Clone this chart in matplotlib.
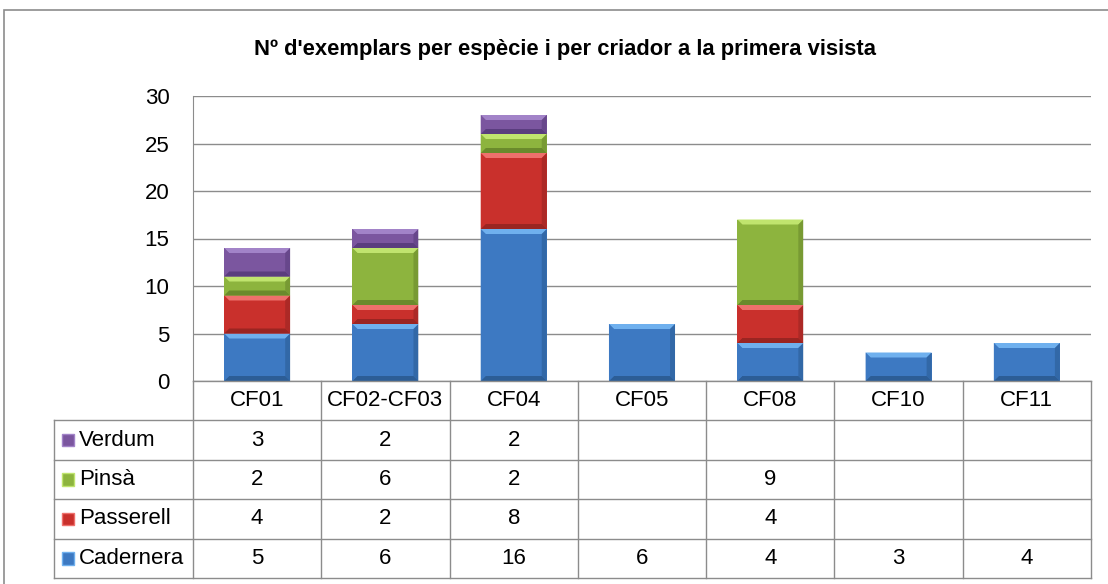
import matplotlib
matplotlib.use("Agg")
import matplotlib.pyplot as plt
from matplotlib.patches import Polygon, Rectangle
import numpy as np

plt.rcParams['font.family'] = ['Liberation Sans', 'DejaVu Sans']

# data
breeders = ['CF01', 'CF02-CF03', 'CF04', 'CF05', 'CF08', 'CF10', 'CF11']
species = ['Cadernera', 'Passerell', 'Pinsà', 'Verdum']
cadernera = [5, 6, 16, 6, 4, 3, 4]
passerell = [4, 2, 8, 0, 4, 0, 0]
pinsa = [2, 6, 2, 0, 9, 0, 0]
verdum = [3, 2, 2, 0, 0, 0, 0]
series = [cadernera, passerell, pinsa, verdum]

# (main, light top, dark bottom)
colors = [('#3d79c2', '#6fb0ee', '#2c5d96'),
          ('#c9302c', '#ee706c', '#9a2522'),
          ('#8db43e', '#c0e46e', '#6a8a2c'),
          ('#7b569f', '#a283c8', '#5a3d7e')]

W, H = 1108, 584
fig = plt.figure(figsize=(W / 100, H / 100), dpi=100)

# outer chart border
fig.patches.append(Rectangle((4 / W, -0.05), 1.2, 1 - 10 / H + 0.05, transform=fig.transFigure,
                             fill=False, edgecolor='#8c8c8c', lw=1.2))

x0, x1 = 193, 1091
y_top, y_bot = 96, 381
ax = fig.add_axes([x0 / W, 1 - y_bot / H, (x1 - x0) / W, (y_bot - y_top) / H])
ax.set_xlim(-0.5, len(breeders) - 0.5)
ax.set_ylim(0, 30)
ax.set_yticks(range(0, 31, 5))
ax.set_xticks([])
ax.yaxis.grid(True, color='#8c8c8c', lw=1)
ax.set_axisbelow(True)
for s in ['top', 'right', 'bottom']:
    ax.spines[s].set_visible(False)
ax.spines['left'].set_color('#8c8c8c')
ax.tick_params(axis='y', length=0, pad=17, labelsize=16)

fig.text(565 / W, 1 - 50 / H, "Nº d'exemplars per espècie i per criador a la primera visista",
         ha='center', va='center', fontsize=15.8, fontweight='bold')

# px -> data units for bevel
bx = 5 / ((x1 - x0) / len(breeders))
by = 5 / ((y_bot - y_top) / 30)


def bevel(ax, r, cols):
    main, light, dark = cols
    x, y, w, h = r.get_x(), r.get_y(), r.get_width(), r.get_height()
    if h <= 0:
        return
    dy = min(by, h / 3)
    dx = bx
    ax.add_patch(Polygon([(x, y + h), (x + w, y + h), (x + w - dx, y + h - dy), (x + dx, y + h - dy)],
                         closed=True, facecolor=light, edgecolor='none', zorder=3))
    ax.add_patch(Polygon([(x, y), (x + w, y), (x + w - dx, y + dy), (x + dx, y + dy)],
                         closed=True, facecolor=dark, edgecolor='none', zorder=3))
    ax.add_patch(Polygon([(x, y), (x, y + h), (x + dx, y + h - dy), (x + dx, y + dy)],
                         closed=True, facecolor=main, edgecolor='none', alpha=0.85, zorder=3))
    ax.add_patch(Polygon([(x + w, y), (x + w, y + h), (x + w - dx, y + h - dy), (x + w - dx, y + dy)],
                         closed=True, facecolor=dark, edgecolor='none', alpha=0.6, zorder=3))


xs = np.arange(len(breeders))
bottom = np.zeros(len(breeders))
for vals, cols in zip(series, colors):
    bars = ax.bar(xs, vals, width=0.515, bottom=bottom, color=cols[0], edgecolor='none', zorder=2)
    for r in bars:
        bevel(ax, r, cols)
    bottom += np.array(vals)

# data table
lab_left = 54
tab = fig.add_axes([lab_left / W, 1 - 578 / H, (x1 - lab_left) / W, (578 - y_bot) / H])
tab.set_xlim(-0.5 - (x0 - lab_left) / ((x1 - x0) / len(breeders)), len(breeders) - 0.5)
tab.set_ylim(5, 0)
tab.axis('off')
lx = tab.get_xlim()[0]
gc = '#8c8c8c'
# header row
for i in range(len(breeders) + 1):
    tab.plot([i - 0.5, i - 0.5], [0, 5], color=gc, lw=1, clip_on=False)
tab.plot([lx, lx], [1, 5], color=gc, lw=1, clip_on=False)
tab.plot([-0.5, len(breeders) - 0.5], [0, 0], color=gc, lw=1, clip_on=False)
for j in range(1, 6):
    tab.plot([lx, len(breeders) - 0.5], [j, j], color=gc, lw=1, clip_on=False)
for i, b in enumerate(breeders):
    tab.text(i, 0.5, b, ha='center', va='center', fontsize=16)
for k, (name, vals, cols) in enumerate(zip(species, series, colors)):
    row = 4 - k + 0.5
    sq = 12 / ((x1 - x0) / len(breeders))
    tab.add_patch(Rectangle((lx + 8 / 128.3, row - 0.16), sq, 0.32, facecolor=cols[0],
                            edgecolor=cols[1], lw=1))
    tab.text(lx + 25 / 128.3, row, name, ha='left', va='center', fontsize=16)
    for i, v in enumerate(vals):
        if v:
            tab.text(i, row, str(v), ha='center', va='center', fontsize=16)

fig.savefig('out.png', dpi=100)
